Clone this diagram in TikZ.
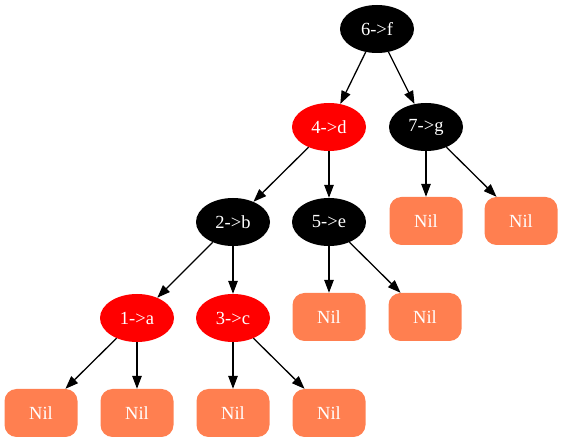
\documentclass[tikz,border=0pt]{standalone}
\usepackage{fontspec}
\setmainfont{Liberation Serif}
\usetikzlibrary{shapes.geometric,arrows.meta}
\definecolor{coral}{HTML}{FF7F50}
\tikzset{
  rbnode/.style={ellipse, minimum width=74pt, minimum height=48pt, inner sep=0pt,
    text=white, font=\fontsize{18.5}{20}\selectfont},
  blk/.style={rbnode, fill=black},
  rd/.style={rbnode, fill=red},
  nil/.style={rectangle, rounded corners=12pt, fill=coral, minimum width=73pt,
    minimum height=48pt, inner sep=0pt, text=white, font=\fontsize{18.5}{20}\selectfont},
  edge/.style={draw=black, line width=1.3pt, -{Triangle[length=13pt,width=9.5pt]}}
}
\begin{document}
\begin{tikzpicture}[x=1pt,y=-1pt]
\useasboundingbox (0,0) rectangle (563,443);
\node[blk] (f) at (377,29) {6->f};
\node[rd] (d) at (329,127) {4->d};
\node[blk] (g) at (426,127) {7->g};
\node[blk] (b) at (233,222) {2->b};
\node[blk] (e) at (329,222) {5->e};
\node[nil] (g1) at (426,221) {Nil};
\node[nil] (g2) at (521,221) {Nil};
\node[rd] (a) at (137,318) {1->a};
\node[rd] (c) at (233,318) {3->c};
\node[nil] (e1) at (329,317) {Nil};
\node[nil] (e2) at (425,317) {Nil};
\node[nil] (a1) at (41,413) {Nil};
\node[nil] (a2) at (137,413) {Nil};
\node[nil] (c1) at (233,413) {Nil};
\node[nil] (c2) at (329,413) {Nil};
\draw[edge] (f) -- (d);
\draw[edge] (f) -- (g);
\draw[edge] (d) -- (b);
\draw[edge] (d) -- (e);
\draw[edge] (g) -- (g1);
\draw[edge] (g) -- (g2);
\draw[edge] (b) -- (a);
\draw[edge] (b) -- (c);
\draw[edge] (e) -- (e1);
\draw[edge] (e) -- (e2);
\draw[edge] (a) -- (a1);
\draw[edge] (a) -- (a2);
\draw[edge] (c) -- (c1);
\draw[edge] (c) -- (c2);
\end{tikzpicture}
\end{document}
